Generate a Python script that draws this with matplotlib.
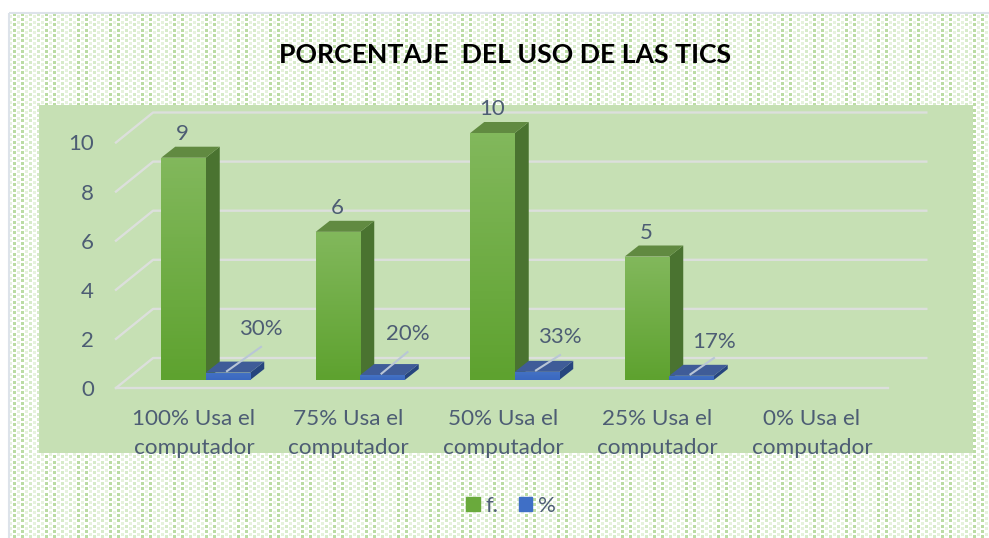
import numpy as np
import matplotlib.pyplot as plt
from matplotlib.colors import to_rgb
from matplotlib.patches import Polygon, Rectangle

plt.rcParams['font.family'] = ['Lato', 'DejaVu Sans']

categories = ["100% Usa el\ncomputador", "75% Usa el\ncomputador", "50% Usa el\ncomputador",
              "25% Usa el\ncomputador", "0% Usa el\ncomputador"]
freq = [9, 6, 10, 5, None]
freq_labels = ["9", "6", "10", "5"]
pct = [0.30, 0.20, 0.33, 0.17, None]
pct_labels = ["30%", "20%", "33%", "17%"]
y_ticks = [0, 2, 4, 6, 8, 10]

W, H = 989, 538
TEXT = "#4d5d74"
PANEL = "#c6e0b4"
GRID = "#dcdfdc"

# pixel scale of the category / value axes
sx, sy = 154.5, 24.7
x0_px, y0_px = 194, 380


def dotted_background():
    # staggered blobs in columns 4 px apart, two darker columns every 32 px
    img = np.ones((H, W, 3))
    green = np.array(to_rgb("#b8dba0"))
    for col, x in enumerate(range(1, W, 4)):
        strong = x % 32 in (13, 21)
        strength = 0.95 if strong else (0.55 if x % 8 == 5 else 0.35)
        phase = 0 if col % 2 == 0 else 2.67
        for r in np.arange(phase, H, 5.33):
            y = int(r)
            img[y:y + 3, x:x + 3] = 1 + (green - 1) * strength
    img[:13] = 1
    img[:, :9] = 1
    return img


def bar3d(ax, x, h, width, top_col, bottom_col, side, roof, dx, dy):
    bar = ax.bar(x, h, width=width, color=bottom_col, zorder=3)[0]
    grad = np.linspace(0, 1, 64)[:, None, None]
    colors = np.array(to_rgb(top_col)) * (1 - grad) + np.array(to_rgb(bottom_col)) * grad
    im = ax.imshow(colors, extent=[x - width / 2, x + width / 2, 0, h], aspect='auto', zorder=3.1)
    im.set_clip_path(bar)
    l, r = x - width / 2, x + width / 2
    ax.add_patch(Polygon([(r, 0), (r + dx, dy), (r + dx, h + dy), (r, h)], color=side, lw=0, zorder=3))
    ax.add_patch(Polygon([(l, h), (r, h), (r + dx, h + dy), (l + dx, h + dy)], color=roof, lw=0, zorder=3))


fig = plt.figure(figsize=(W / 100, H / 100), dpi=100, facecolor="white")

bg = fig.add_axes([0, 0, 1, 1], zorder=0)
bg.imshow(dotted_background(), extent=[0, W, H, 0], aspect='auto', interpolation='bilinear')
bg.add_patch(Rectangle((9, 13), W, H, fill=False, ec="#dde3ea", lw=1.5))
bg.axis('off')

# plot area
left, right, top, bottom = 39, 973, 105, 453
ax = fig.add_axes([left / W, 1 - bottom / H, (right - left) / W, (bottom - top) / H], zorder=1)
ax.set_facecolor(PANEL)
ax.set_xlim((left - x0_px) / sx, (right - x0_px) / sx)
ax.set_ylim((y0_px - bottom) / sy, (y0_px - top) / sy)
for s in ax.spines.values():
    s.set_visible(False)

# floor and wall gridlines sit a little in front of the bars
front = 8 / sy
grid_scale = 24.55 / sy
gx_front, gx_back, gx_right_front, gx_right_back = -0.505, -0.265, 4.49, 4.74
wall_rise = 30 / sy
grid_pos = [v * grid_scale - front for v in y_ticks]
for yf in grid_pos:
    ax.plot([gx_front, gx_back, gx_right_back], [yf, yf + wall_rise, yf + wall_rise],
            color=GRID, lw=1.7, zorder=1, solid_joinstyle='round')
ax.plot([gx_front, gx_right_front], [-front, -front], color=GRID, lw=1.7, zorder=1)

bw = 44.5 / sx
dx, dy = 14 / sx, 11 / sy
green_x = -0.068
blue_x = green_x + bw

# per-label placement of the percentage labels, as Excel left them (axis units above the bar base)
pct_label_dx = [33, 25, 23, 22.5]
pct_label_y = [2.06, 1.86, 1.74, 1.54]
leader_top = [1.34, 1.13, 1.01, 0.89]

for i, (f, p) in enumerate(zip(freq, pct)):
    if f is None:
        continue
    bar3d(ax, i + green_x, f, bw, "#82b85c", "#5ea22f", "#4a7330", "#618a41", dx, dy)
    bar3d(ax, i + blue_x, p, bw, "#4472c4", "#3a68c0", "#26457e", "#3f5c98", dx, dy)
    ax.text(i + green_x - 0.005, f + 0.96, freq_labels[i], ha='center', va='center', fontsize=16, color=TEXT, zorder=5)
    ax.plot([i + blue_x - 1 / sx, i + blue_x + pct_label_dx[i] / sx], [p + 0.06, leader_top[i]],
            color="#b9c6d6", lw=1.5, zorder=4)
    ax.text(i + blue_x + pct_label_dx[i] / sx, pct_label_y[i], pct_labels[i], ha='center', va='center',
            fontsize=16, color=TEXT, zorder=5)

ax.set_xticks(range(len(categories)))
ax.set_xticklabels(categories, fontsize=16.2, color=TEXT, linespacing=1.62)
ax.set_yticks(grid_pos)
ax.set_yticklabels([str(v) for v in y_ticks], fontsize=16, color=TEXT)
ax.tick_params(axis='x', length=0, pad=-32)
ax.tick_params(axis='y', length=0, pad=-39.5)

fig.text(505 / W, 1 - 55 / H, "PORCENTAJE  DEL USO DE LAS TICS", ha='center', va='center',
         fontsize=19.2, fontweight='bold', color="black")

handles = [Rectangle((0, 0), 1, 1, color="#6aaa3c"), Rectangle((0, 0), 1, 1, color="#3f6fc6")]
fig.legend(handles, ["f.", "%"], ncols=2, frameon=False, loc='center', bbox_to_anchor=(511 / W, 1 - 506 / H),
           fontsize=16, labelcolor=TEXT, handlelength=0.62, handleheight=0.62, handletextpad=0.27,
           columnspacing=0.9)

fig.savefig("out.png", dpi=100)
plt.close(fig)
